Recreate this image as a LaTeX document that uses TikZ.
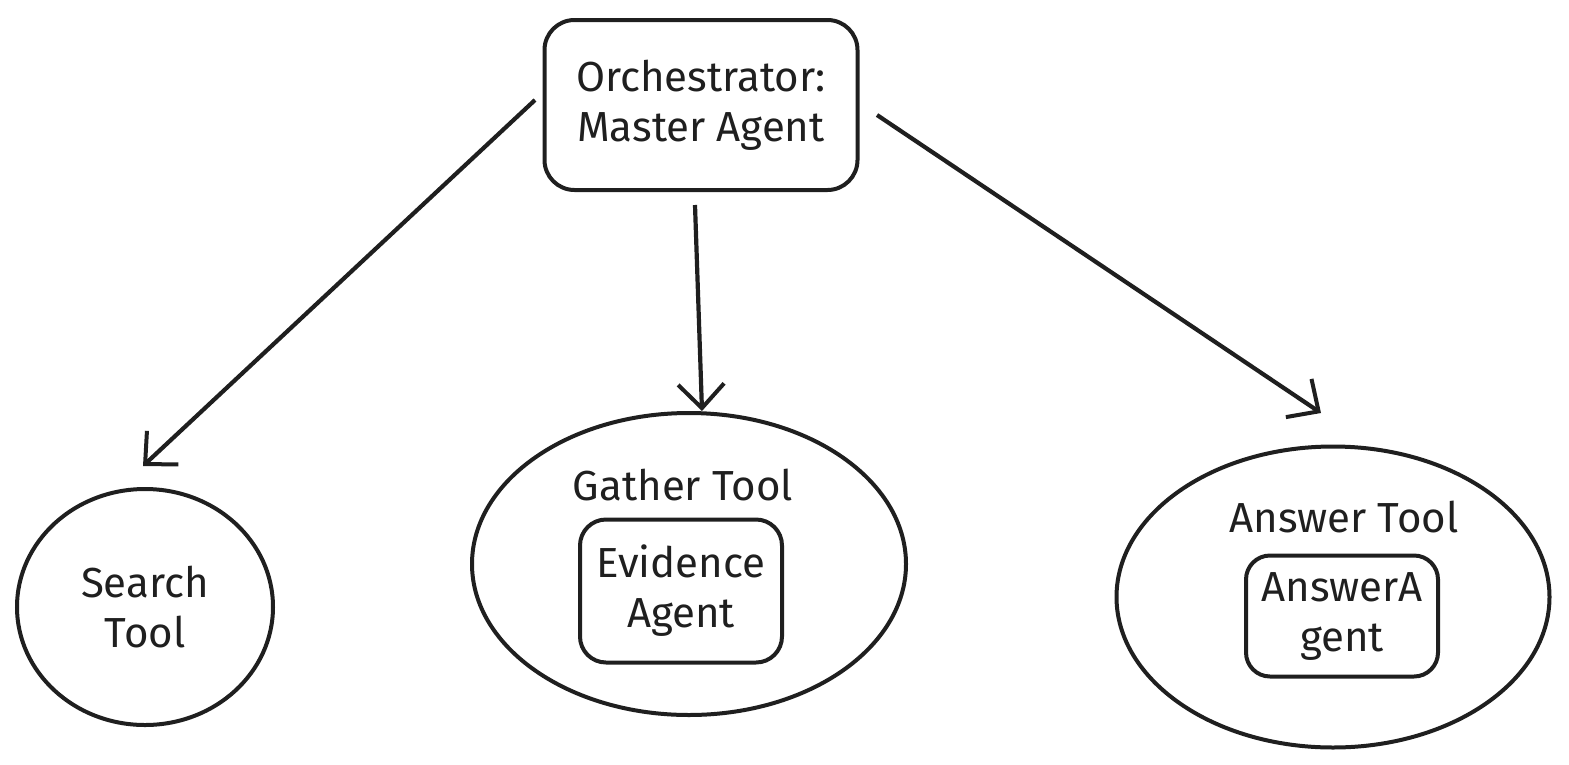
\documentclass[tikz,border=0pt]{standalone}
\usepackage{fontspec}
\setmainfont{Fira Sans}
\usetikzlibrary{arrows.meta,shapes.geometric}
\begin{document}
\begin{tikzpicture}[x=1pt,y=-1pt,
  ink/.style={draw=black!88,line width=4pt},
  lbl/.style={font=\fontsize{42}{50}\selectfont,align=center,text=black!88,inner sep=0pt},
  rbox/.style={ink,rounded corners=30pt,inner sep=0pt},
  arr/.style={ink,line width=4.2pt,-{Straight Barb[length=24pt,width=46pt,line width=4pt]}}]
\useasboundingbox (0,0) rectangle (1569,764);
% orchestrator
\node[rbox,minimum width=313pt,minimum height=170pt] (orch) at (701,105) {};
\node[lbl] (orcht) at (701,105) {Orchestrator:\\Master Agent};
% search tool
\node[ink,ellipse,minimum width=256pt,minimum height=236pt,inner sep=0pt] (search) at (145,607) {};
\node[lbl] (searcht) at (145,607) {Search\\Tool};
% gather tool
\node[ink,ellipse,minimum width=434pt,minimum height=302pt,inner sep=0pt] (gather) at (689,564) {};
\node[lbl] (gathert) at (683,485) {Gather Tool};
\node[rbox,rounded corners=26pt,minimum width=202pt,minimum height=143pt] (evid) at (681,591) {};
\node[lbl] (evidt) at (681,591) {Evidence\\Agent};
% answer tool
\node[ink,ellipse,minimum width=433pt,minimum height=301pt,inner sep=0pt] (answer) at (1333,597) {};
\node[lbl] (answert) at (1344,517) {Answer Tool};
\node[rbox,rounded corners=24pt,minimum width=192pt,minimum height=121pt] (ansag) at (1342,616) {};
\node[lbl] (ansagt) at (1342,616) {AnswerA\\gent};
% arrows
\coordinate (s1) at (535,100);
\coordinate (e1) at (143,466);
\coordinate (s2) at (695,205);
\coordinate (e2) at (702,411);
\coordinate (s3) at (877,115);
\coordinate (e3) at (1321,413);
\draw[arr] (s1) -- (e1);
\draw[arr] (s2) -- (e2);
\draw[arr] (s3) -- (e3);
\end{tikzpicture}
\end{document}
